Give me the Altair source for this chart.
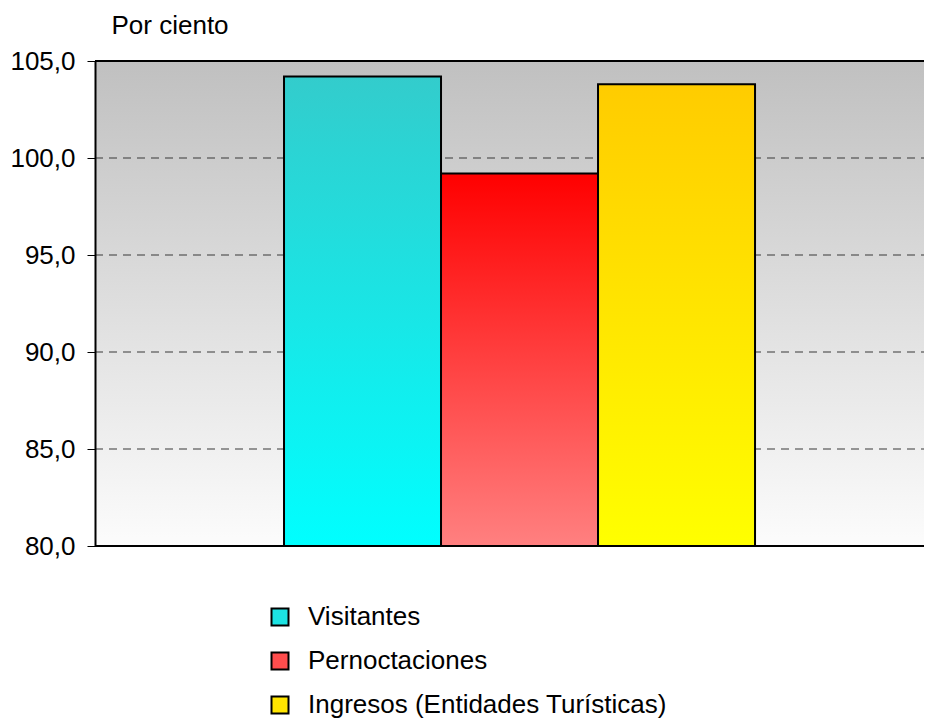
import altair as alt
import pandas as pd

# ---- data ----
series = ["Visitantes", "Pernoctaciones", "Ingresos (Entidades Turísticas)"]
values = [104.2, 99.2, 103.8]
group = ["g"] * 3
top_colors = ["#33CCCC", "#FF0000", "#FFCC00"]
bottom_colors = ["#00FFFF", "#FF8080", "#FFFF00"]
legend_colors = ["#1CE3E3", "#FF4D4D", "#FFE500"]
y_ticks = [80, 85, 90, 95, 100, 105]
grid_values = [85, 90, 95, 100]
border_values = [80, 105]
y_min, y_max = 80, 105

W, H = 829, 485
FONT = "Liberation Sans"
FS = 26

df = pd.DataFrame({"grupo": group, "serie": series, "valor": values})
grid_df = pd.DataFrame({"g": grid_values})
border_df = pd.DataFrame({"b": border_values})


def vgrad(top, bottom):
    return {"gradient": "linear", "x1": 0, "y1": 0, "x2": 0, "y2": 1,
            "stops": [{"offset": 0, "color": top}, {"offset": 1, "color": bottom}]}


x_scale = alt.Scale(paddingInner=0, paddingOuter=0.380, align=0.528)
xo_scale = alt.Scale(domain=series, paddingInner=0, paddingOuter=0)
y_scale = alt.Scale(domain=[y_min, y_max], nice=False, zero=False)

y_axis = alt.Axis(
    values=y_ticks,
    labelExpr="replace(format(datum.value, '.1f'), '.', ',')",
    labelFont=FONT, labelFontSize=FS, labelColor="black", labelPadding=12,
    labelBaseline="middle", labelFlush=False,
    domain=True, domainColor="black", domainWidth=2,
    ticks=True, tickColor="black", tickWidth=1, tickSize=8,
    grid=False, zindex=1,
    title="Por ciento", titleAngle=0, titleAlign="left", titleBaseline="alphabetic",
    titleX=16, titleY=-28, titleFont=FONT, titleFontSize=FS, titleFontWeight="normal",
    titleColor="black",
)

bg = alt.Chart(border_df).mark_rect(
    fill=vgrad("#C0C0C0", "#FCFCFC")
).encode(
    x=alt.value(0), x2=alt.value(W),
    y=alt.Y("max(b):Q", scale=y_scale, axis=y_axis),
    y2="min(b):Q",
)

grid = alt.Chart(grid_df).mark_rule(
    color="#383838", strokeWidth=1, strokeDash=[8, 6]
).encode(
    y=alt.Y("g:Q", scale=y_scale, axis=y_axis),
    x=alt.value(0), x2=alt.value(W),
)

x_enc = alt.X("grupo:N", scale=x_scale, axis=None)
xo_enc = alt.XOffset("serie:N", scale=xo_scale, sort=series)

base_bars = alt.Chart(df).mark_bar(opacity=1).encode(
    x=x_enc, xOffset=xo_enc,
    y=alt.Y("valor:Q", scale=y_scale, axis=y_axis),
    y2=alt.datum(y_min),
    color=alt.Color(
        "serie:N",
        scale=alt.Scale(domain=series, range=legend_colors),
        sort=series,
        legend=alt.Legend(
            orient="none", legendX=172, legendY=543, title=None,
            symbolType="square", symbolSize=289, symbolStrokeColor="black",
            symbolStrokeWidth=2, symbolOpacity=1,
            labelFont=FONT, labelFontSize=FS, labelColor="black",
            labelOffset=15, rowPadding=18, padding=0, labelLimit=700,
        ),
    ),
)

grad_layers = []
for s, t, b in zip(series, top_colors, bottom_colors):
    grad_layers.append(
        alt.Chart(df).transform_filter(alt.datum.serie == s).mark_bar(
            fill=vgrad(t, b), stroke="black", strokeWidth=2
        ).encode(
            x=x_enc, xOffset=xo_enc,
            y=alt.Y("valor:Q", scale=y_scale, axis=y_axis),
            y2=alt.datum(y_min),
        )
    )

borders = alt.Chart(border_df).mark_rule(color="black", strokeWidth=2).encode(
    y=alt.Y("b:Q", scale=y_scale, axis=y_axis),
    x=alt.value(0), x2=alt.value(W),
)

chart = alt.layer(bg, grid, base_bars, *grad_layers, borders).properties(
    width=W, height=H,
    padding={"left": 87, "top": 53, "right": 0, "bottom": 173},
    autosize=alt.AutoSizeParams(type="none"),
    background="white",
).configure_view(stroke=None)

chart.save("out.html", embed_options={"renderer": "svg", "actions": False})
